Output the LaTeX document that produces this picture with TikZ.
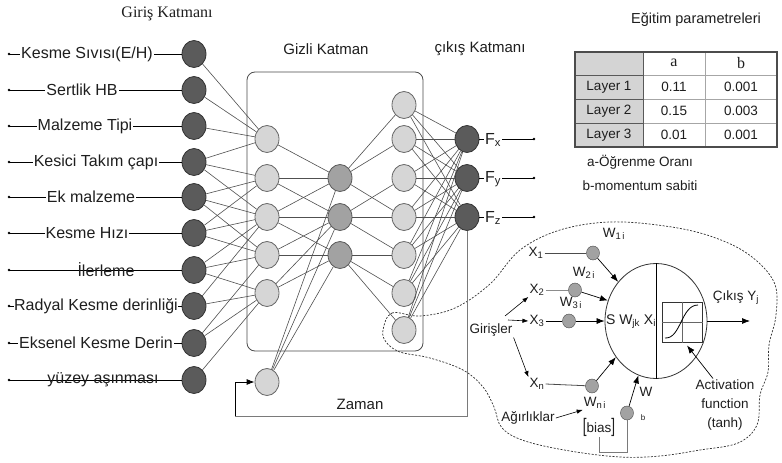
\documentclass[tikz,border=0pt]{standalone}
\usepackage{fontspec}
\setmainfont{Liberation Sans}
\newfontfamily\seriffont{Liberation Serif}
\usetikzlibrary{shapes.geometric,arrows.meta}

\definecolor{nodedark}{HTML}{5B5B5B}
\definecolor{nodelight}{HTML}{D6D6D6}
\definecolor{nodemid}{HTML}{A2A2A2}
\definecolor{edgecol}{HTML}{505050}
\definecolor{ink}{HTML}{1E1E1E}
\definecolor{cellgray}{HTML}{D4D4D4}
\definecolor{loopgray}{HTML}{7A7A7A}

\tikzset{
  neu/.style={ellipse, draw=black!80, line width=0.8pt, inner sep=0pt,
    minimum width=24pt, minimum height=27pt},
  innode/.style={neu, fill=nodedark},
  hidnode/.style={neu, fill=nodelight, draw=black!60},
  midnode/.style={neu, fill=nodemid, draw=black!65},
  wnode/.style={ellipse, draw=black!70, fill=nodemid, inner sep=0pt,
    minimum width=13pt, minimum height=14pt},
  wire/.style={draw=edgecol, line width=0.6pt},
  feed/.style={draw=black!90, line width=0.8pt},
  lbl/.style={font=\fontsize{16}{18}\selectfont, text=ink, inner sep=1pt},
  ttl/.style={font=\fontsize{15}{17}\selectfont, text=ink, inner sep=1pt},
  txts/.style={font=\fontsize{13.5}{16}\selectfont, text=ink, inner sep=1pt},
  arr/.style={-{Latex[length=8pt,width=6pt]}, line width=0.7pt},
}

\begin{document}
\begin{tikzpicture}[x=1pt,y=-1pt]
\useasboundingbox (0,0) rectangle (782,463);
\fill[white] (0,0) rectangle (782,463);

% ---------- titles ----------
\node[font=\seriffont\fontsize{16}{18}\selectfont, text=ink] (tin) at (167,14) {Giriş Katmanı};
\node[ttl] (thid) at (326,49) {Gizli Katman};
\node[ttl] (tout) at (480,49) {çıkış Katmanı};
\node[font=\fontsize{14.5}{16}\selectfont, text=ink] (tpar) at (696,20) {Eğitim parametreleri};

% ---------- dashed outline around the neuron detail ----------
\draw[black!80, line width=0.7pt, dash pattern=on 2pt off 1.5pt]
  plot[smooth cycle, tension=0.6] coordinates {
   (383,330) (392,313) (420,316) (455,308) (490,284) (520,250) (560,230)
   (610,222) (665,226) (710,236) (748,254) (774,282) (776,315) (769,345)
   (768,372) (760,395) (757,425) (738,443) (700,450) (660,456) (620,457)
   (570,451) (525,441) (502,428) (494,407) (483,387) (463,370) (430,358)
   (400,352) (386,342)};

% ---------- hidden layer frame ----------
\draw[black!70, line width=0.8pt, rounded corners=8pt] (247,72) rectangle (423,351);

% ---------- nodes ----------
\foreach \i/\y in {1/54,2/90,3/126,4/162,5/197,6/233,7/270,8/306,9/343,10/380}
  \node[innode] (i\i) at (194,\y) {};
\foreach \i/\y in {1/139,2/178,3/217,4/255,5/293}
  \node[hidnode] (h\i) at (267,\y) {};
\foreach \i/\y in {1/178,2/217,3/255}
  \node[midnode] (m\i) at (340,\y) {};
\foreach \i/\y in {1/105,2/139,3/178,4/217,5/255,6/293,7/330}
  \node[hidnode] (k\i) at (404,\y) {};
\foreach \i/\y in {1/139,2/178,3/217}
  \node[innode] (o\i) at (467,\y) {};
\node[hidnode] (zn) at (267,382) {};

% ---------- connections ----------
\foreach \a/\b in {1/1,2/1,3/1,4/1,4/2,4/3,5/2,5/3,5/4,6/2,6/3,6/4,
                   7/3,7/4,7/5,8/3,8/5,9/4,9/5,10/5}
  \draw[wire] (i\a) -- (h\b);
\foreach \a/\b in {1/1,2/1,2/2,3/1,3/2,3/3,4/2,4/3,5/2,5/3}
  \draw[wire] (h\a) -- (m\b);
\foreach \b in {1,2,3}
  \draw[wire] (zn) -- (m\b);
\foreach \a/\b in {1/1,1/2,1/4,2/3,2/4,2/5,3/5,3/6,3/7}
  \draw[wire] (m\a) -- (k\b);
\foreach \a in {1,...,7}
  \foreach \b in {1,2,3}
    \draw[wire] (k\a) -- (o\b);

% ---------- feedback loop ----------
\coordinate (fbr) at (467,416);
\coordinate (fbl) at (235,416);
\draw[loopgray, line width=0.8pt] (o3.south) -- (fbr) -- (fbl);
\draw[loopgray, line width=0.8pt, -{Latex[length=8pt,width=6pt]}, black] (fbl) |- (zn.west);
\node[ttl] (zaman) at (360,404) {Zaman};

% ---------- input labels ----------
\foreach \i in {1,...,10}
  \coordinate (d\i) at (9,0 |- i\i);
\foreach \i in {1,...,10} {
  \draw[black, line width=0.7pt] (d\i) -- (i\i.west);
  \fill[black] (d\i) circle (1.4pt);
}
\node[lbl, fill=white] (l1) at (87,54) {Kesme Sıvısı(E/H)};
\node[lbl, fill=white] (l2) at (82,90) {Sertlik HB};
\node[lbl, fill=white] (l3) at (85,126) {Malzeme Tipi};
\node[lbl, fill=white] (l4) at (96,162) {Kesici Takım çapı};
\node[lbl, fill=white] (l5) at (91,197) {Ek malzeme};
\node[lbl, fill=white] (l6) at (87,233) {Kesme Hızı};
\node[lbl] (l7) at (106,270) {İlerleme};
\node[lbl, fill=white, inner sep=0.5pt] (l8) at (96,306) {Radyal Kesme derinliği};
\node[lbl, fill=white] (l9) at (96,343) {Eksenel Kesme Derin};
\node[lbl] (l10) at (103,380) {yüzey aşınması};

% ---------- output labels ----------
\node[lbl] (fx) at (493,140) {F\textsubscript{x}};
\node[lbl] (fy) at (493,179) {F\textsubscript{y}};
\node[lbl] (fz) at (493,218) {F\textsubscript{z}};
\coordinate (ex) at (534,139);
\coordinate (ey) at (534,178);
\coordinate (ez) at (534,217);
\draw[black, line width=0.7pt] (o1.east) -- (o1.east -| fx.west);
\draw[black, line width=0.7pt] (o2.east) -- (o2.east -| fy.west);
\draw[black, line width=0.7pt] (o3.east) -- (o3.east -| fz.west);
\draw[black, line width=0.7pt] (ex -| fx.east) -- (ex);
\draw[black, line width=0.7pt] (ey -| fy.east) -- (ey);
\draw[black, line width=0.7pt] (ez -| fz.east) -- (ez);
\fill (ex) circle (1.3pt);
\fill (ey) circle (1.3pt);
\fill (ez) circle (1.3pt);

% ---------- training parameter table ----------
\fill[cellgray] (575,52) rectangle (643,147);
\draw[black!35, line width=0.8pt] (643,75) -- (777,75) (643,99) -- (777,99)
  (643,123) -- (777,123) (705,52) -- (705,147);
\draw[black!65, line width=1pt] (575,75) -- (643,75) (575,99) -- (643,99)
  (575,123) -- (643,123) (643,52) -- (643,147);
\draw[black!70, line width=1.2pt] (575,52) rectangle (777,147);
\node[font=\seriffont\fontsize{16}{18}\selectfont, text=ink] (ha) at (674,63) {a};
\node[font=\seriffont\fontsize{16}{18}\selectfont, text=ink] (hb) at (741,63) {b};
\foreach \r/\y/\a/\b in {1/87/0.11/0.001, 2/111/0.15/0.003, 3/135/0.01/0.001} {
  \node[txts] (ly\r) at (609,\y) {Layer \r};
  \node[txts] (va\r) at (674,\y) {\a};
  \node[txts] (vb\r) at (741,\y) {\b};
}
\node[txts] (lega) at (640,162) {a-Öğrenme Oranı};
\node[txts] (legb) at (640,186) {b-momentum sabiti};

% ---------- single neuron detail ----------
\node[ellipse, draw=black!80, line width=0.8pt, minimum width=102pt,
  minimum height=115pt, inner sep=0pt] (cell) at (656,321) {};
\draw[black, line width=0.8pt] (cell.north) -- (cell.south);
\node[txts, font=\fontsize{14}{16}\selectfont] (sum) at (631,322)
  {S W\textsubscript{jk} X\textsubscript{i}};
\node[draw=black!80, line width=1pt, minimum width=40pt, minimum height=40pt,
  inner sep=0pt] (act) at (682,322) {};
\draw[black!60, line width=0.7pt] (act.north) -- (act.south) (act.west) -- (act.east);
\draw[black, line width=0.8pt] (665,338) .. controls (681,339) and (681,305) .. (698,305);

\node[txts] (x1) at (536,253) {X\textsubscript{1}};
\node[txts] (x2) at (537,290) {X\textsubscript{2}};
\node[txts] (x3) at (537,321) {X\textsubscript{3}};
\node[txts] (xn) at (537,384) {X\textsubscript{n}};
\node[wnode] (w1) at (593,253) {};
\node[wnode] (w2) at (575,290) {};
\node[wnode] (w3) at (569,321) {};
\node[wnode] (wn) at (592,386) {};
\node[wnode] (wb) at (627,413) {};
\node[txts] (w1l) at (614,234) {W\textsubscript{1\,i}};
\node[txts] (w2l) at (584,273) {W\textsubscript{2\,i}};
\node[txts] (w3l) at (571,303) {W\textsubscript{3\,i}};
\node[txts] (wnl) at (595,403) {W\textsubscript{n\,i}};
\node[txts] (wbl) at (646,392) {W};
\node[font=\fontsize{8}{9}\selectfont, text=ink] (bl) at (643,418) {b};
\node[txts] (biasl) at (599,427)
  {\scalebox{1}[1.45]{[}bias\scalebox{1}[1.45]{]}};

\draw[black!70, line width=0.8pt] (x1.east) -- (w1);
\draw[black!45, line width=1pt] (x2.east) -- (w2);
\draw[black, line width=0.8pt] (x3.east) -- (w3);
\draw[black!70, line width=0.8pt] (xn.east) -- (wn);
\draw[arr] (w1) -- (cell.134);
\draw[arr] (w2) -- (cell.157);
\draw[arr] (w3) -- (cell.west);
\draw[arr] (wn) -- (cell.222);
\draw[arr] (wb) -- (cell.252);
\coordinate (bloop) at (599,452);
\draw[loopgray, line width=0.8pt] (wb.south) |- (bloop) -- (bloop |- biasl.south);

\node[txts] (gir) at (491,330) {Girişler};
\draw[-{Latex[length=6pt,width=4.5pt]}, line width=0.6pt] (505,316) -- (x2.south west);
\draw[-{Latex[length=6pt,width=4.5pt]}, line width=0.6pt] (508,320) -- (x3.west);
\draw[-{Latex[length=6pt,width=4.5pt]}, line width=0.6pt] (gir.south east) -- (xn.north west);
\node[txts] (agr) at (528,418) {Ağırlıklar};
\draw[-{Latex[length=6pt,width=4.5pt]}, line width=0.6pt] (agr.east) -- (wnl.south west);

\coordinate (yend) at (750,321);
\draw[arr] (cell.east) -- (yend);
\node[txts] (yout) at (736,298) {Çıkış Y\textsubscript{j}};

\node[txts, align=center, font=\fontsize{13.5}{19}\selectfont] (actl) at (725,405)
  {Activation\\function\\(tanh)};
\draw[arr] ([xshift=-12pt]actl.north) -- ([xshift=5pt,yshift=-3pt]act.south);
\end{tikzpicture}
\end{document}
